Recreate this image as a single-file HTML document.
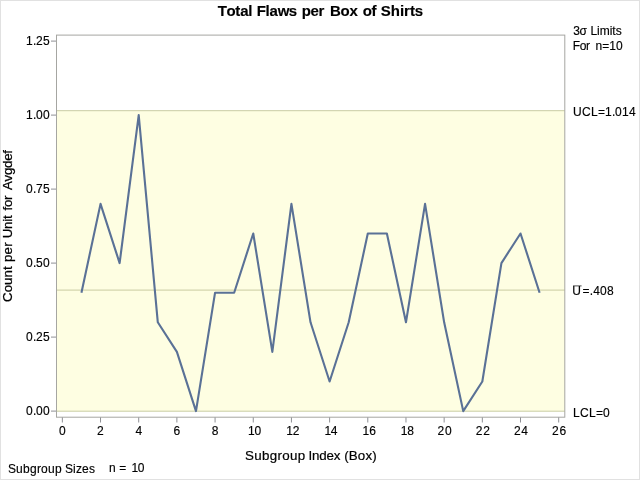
<!DOCTYPE html>
<html><head><meta charset="utf-8"><title>Total Flaws per Box of Shirts</title>
<style>html,body{margin:0;padding:0;background:#fff;}body{width:640px;height:480px;overflow:hidden;}#w{width:640px;height:480px;will-change:transform;transform:translateZ(0);background:#fff;}svg{display:block;}text{font-family:"Liberation Sans",sans-serif;fill:#000;stroke:#000;stroke-width:0.15px;}</style>
</head><body><div id="w">
<svg width="640" height="480" viewBox="0 0 640 480">
<rect x="0" y="0" width="640" height="480" fill="#ffffff"/>
<rect x="0.5" y="0.5" width="639" height="479" fill="none" stroke="#e1e1e1" stroke-width="1"/>
<rect x="57" y="110.70" width="507.80" height="300.50" fill="#fefee2"/>
<line x1="57" x2="564.8" y1="110.70" y2="110.70" stroke="#c9cca2" stroke-width="1"/>
<line x1="57" x2="564.8" y1="290.10" y2="290.10" stroke="#c9cca2" stroke-width="1"/>
<line x1="57" x2="564.8" y1="411.20" y2="411.20" stroke="#c9cca2" stroke-width="1"/>
<rect x="56.5" y="35.1" width="508.30" height="382.10" fill="none" stroke="#a6a6a2" stroke-width="1"/>
<line x1="51" x2="56" y1="411.10" y2="411.10" stroke="#8f9095" stroke-width="1"/>
<text x="26 33 36 43" y="415.1" font-size="12">0.00</text>
<line x1="51" x2="56" y1="337.10" y2="337.10" stroke="#8f9095" stroke-width="1"/>
<text x="26 33 36 43" y="341.1" font-size="12">0.25</text>
<line x1="51" x2="56" y1="263.10" y2="263.10" stroke="#8f9095" stroke-width="1"/>
<text x="26 33 36 43" y="267.1" font-size="12">0.50</text>
<line x1="51" x2="56" y1="189.10" y2="189.10" stroke="#8f9095" stroke-width="1"/>
<text x="26 33 36 43" y="193.1" font-size="12">0.75</text>
<line x1="51" x2="56" y1="115.10" y2="115.10" stroke="#8f9095" stroke-width="1"/>
<text x="26 33 36 43" y="119.1" font-size="12">1.00</text>
<line x1="51" x2="56" y1="41.10" y2="41.10" stroke="#8f9095" stroke-width="1"/>
<text x="26 33 36 43" y="45.1" font-size="12">1.25</text>
<line x1="62.35" x2="62.35" y1="417.4" y2="422.5" stroke="#8f9095" stroke-width="1"/>
<text x="59.03" y="435.3" font-size="12">0</text>
<line x1="100.53" x2="100.53" y1="417.4" y2="422.5" stroke="#8f9095" stroke-width="1"/>
<text x="97.08" y="435.3" font-size="12">2</text>
<line x1="138.71" x2="138.71" y1="417.4" y2="422.5" stroke="#8f9095" stroke-width="1"/>
<text x="135.58" y="435.3" font-size="12">4</text>
<line x1="176.89" x2="176.89" y1="417.4" y2="422.5" stroke="#8f9095" stroke-width="1"/>
<text x="173.43" y="435.3" font-size="12">6</text>
<line x1="215.07" x2="215.07" y1="417.4" y2="422.5" stroke="#8f9095" stroke-width="1"/>
<text x="211.70" y="435.3" font-size="12">8</text>
<line x1="253.25" x2="253.25" y1="417.4" y2="422.5" stroke="#8f9095" stroke-width="1"/>
<text x="248.04 254.54" y="435.3" font-size="12">10</text>
<line x1="291.43" x2="291.43" y1="417.4" y2="422.5" stroke="#8f9095" stroke-width="1"/>
<text x="286.22 292.86" y="435.3" font-size="12">12</text>
<line x1="329.61" x2="329.61" y1="417.4" y2="422.5" stroke="#8f9095" stroke-width="1"/>
<text x="324.40 330.79" y="435.3" font-size="12">14</text>
<line x1="367.79" x2="367.79" y1="417.4" y2="422.5" stroke="#8f9095" stroke-width="1"/>
<text x="362.58 369.14" y="435.3" font-size="12">16</text>
<line x1="405.97" x2="405.97" y1="417.4" y2="422.5" stroke="#8f9095" stroke-width="1"/>
<text x="400.76 407.32" y="435.3" font-size="12">18</text>
<line x1="444.15" x2="444.15" y1="417.4" y2="422.5" stroke="#8f9095" stroke-width="1"/>
<text x="437.55 444.94" y="435.3" font-size="12">20</text>
<line x1="482.33" x2="482.33" y1="417.4" y2="422.5" stroke="#8f9095" stroke-width="1"/>
<text x="475.73 483.26" y="435.3" font-size="12">22</text>
<line x1="520.51" x2="520.51" y1="417.4" y2="422.5" stroke="#8f9095" stroke-width="1"/>
<text x="513.91 521.19" y="435.3" font-size="12">24</text>
<line x1="558.69" x2="558.69" y1="417.4" y2="422.5" stroke="#8f9095" stroke-width="1"/>
<text x="552.09 559.54" y="435.3" font-size="12">26</text>
<polyline points="81.44,292.70 100.53,203.90 119.62,263.10 138.71,115.10 157.80,322.30 176.89,351.90 195.98,411.10 215.07,292.70 234.16,292.70 253.25,233.50 272.34,351.90 291.43,203.90 310.52,322.30 329.61,381.50 348.70,322.30 367.79,233.50 386.88,233.50 405.97,322.30 425.06,203.90 444.15,322.30 463.24,411.10 482.33,381.50 501.42,263.10 520.51,233.50 539.60,292.70" fill="none" stroke="#5a7196" stroke-width="2.1" stroke-linejoin="round" stroke-linecap="butt"/>
<text x="217.73 226.53 235.33 240.13 248.14" y="16" font-size="15" font-weight="bold">Total</text>
<text x="256.80 265.61 269.62 277.65 288.87" y="16" font-size="15" font-weight="bold">Flaws</text>
<text x="301.81 310.59 318.59" y="16" font-size="15" font-weight="bold">per</text>
<text x="330.00 340.60 349.57" y="16" font-size="15" font-weight="bold">Box</text>
<text x="362.81 371.58" y="16" font-size="15" font-weight="bold">of</text>
<text x="380.82 390.79 399.92 404.08 409.89 414.87" y="16" font-size="15" font-weight="bold">Shirts</text>
<text x="244.99 254.28 262.03 269.77 277.52 282.16 289.90 297.65" y="459.5" font-size="13.33" style="stroke-width:0.2px">Subgroup</text>
<text x="308.47 312.07 319.27 326.47 333.68" y="459.5" font-size="13.33" style="stroke-width:0.2px">Index</text>
<text x="344.27 348.79 357.85 365.40 372.19" y="459.5" font-size="13.33" style="stroke-width:0.2px">(Box)</text>
<g transform="translate(12.3,0) rotate(-90)">
<text x="-301.93 -292.31 -284.91 -277.51 -270.11" y="0" font-size="13.33" style="stroke-width:0.25px">Count</text>
<text x="-262.11 -254.41 -246.72" y="0" font-size="13.33" style="stroke-width:0.25px">per</text>
<text x="-238.33 -229.03 -221.87 -219.01" y="0" font-size="13.33" style="stroke-width:0.25px">Unit</text>
<text x="-210.49 -207.03 -200.12" y="0" font-size="13.33" style="stroke-width:0.25px">for</text>
<text x="-190.03 -181.49 -175.08 -167.96 -160.84 -153.72" y="0" font-size="13.33" style="stroke-width:0.25px">Avgdef</text>
</g>
<text x="8 16 23 30 37 41 48 55 62 65 73 76 82 89" y="472.5" font-size="12">Subgroup Sizes</text>
<text x="109.00" y="471.9" font-size="12">n</text>
<text x="119.21" y="471.9" font-size="12">=</text>
<text x="131.49 137.79" y="471.9" font-size="12">10</text>
<text x="573.14 579.58" y="34.5" font-size="12">3σ</text>
<text x="590.42 597.06 599.71 609.66 612.32 615.63" y="34.5" font-size="12">Limits</text>
<text x="572.72 579.67 586.00" y="50" font-size="12">For</text>
<text x="595.40 602.19 609.31 616.09" y="50" font-size="12">n=10</text>
<text x="573 582 591 598 605 612 615 622 629" y="116.0" font-size="12">UCL=1.014</text>
<text x="572.27" y="295.0" font-size="12">U</text>
<text x="582.61 589.81 593.24 600.09 606.95" y="295.0" font-size="12">=.408</text>
<line x1="573" x2="581.6" y1="285.9" y2="285.9" stroke="#222" stroke-width="0.8"/>
<text x="573 580 589 596 603" y="416.7" font-size="12">LCL=0</text>
</svg></div></body></html>
